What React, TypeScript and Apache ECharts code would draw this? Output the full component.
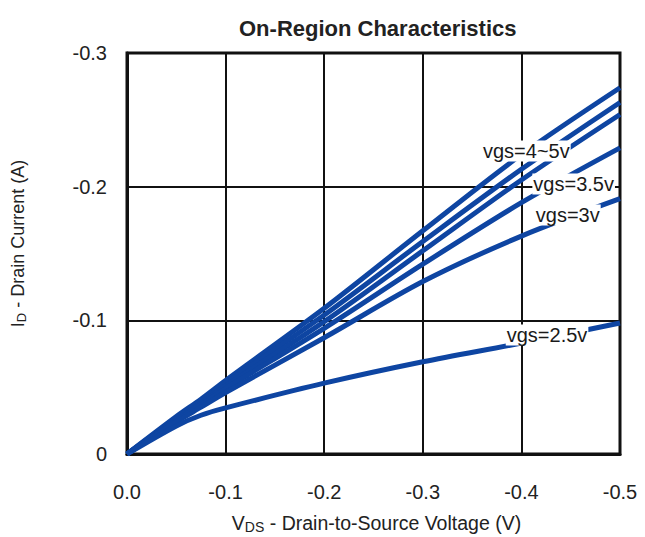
import React, { useEffect, useRef } from "react";
import * as echarts from "echarts";

const vds = [0, -0.05, -0.075, -0.1, -0.2, -0.3, -0.4, -0.5];
const id5v = [0, -0.028, -0.041, -0.055, -0.109, -0.167, -0.224, -0.274];
const id45v = [0, -0.027, -0.04, -0.053, -0.104, -0.159, -0.213, -0.263];
const id4v = [0, -0.026, -0.038, -0.051, -0.099, -0.152, -0.205, -0.254];
const id35v = [0, -0.025, -0.037, -0.049, -0.094, -0.142, -0.188, -0.229];
const id3v = [0, -0.024, -0.035, -0.046, -0.087, -0.129, -0.163, -0.191];
const id25v = [0, -0.021, -0.029, -0.0345, -0.053, -0.069, -0.083, -0.098];

const curveNames = ["5v", "4.5v", "4v", "3.5v", "3v", "2.5v"];
const curves = [id5v, id45v, id4v, id35v, id3v, id25v];

const labelTexts = ["vgs=4~5v", "vgs=3.5v", "vgs=3v", "vgs=2.5v"];
const labelX = [-0.405, -0.453, -0.447, -0.426];
const labelY = [-0.2267, -0.202, -0.1788, -0.089];

const FONT = "'Liberation Sans', Arial, Helvetica, sans-serif";
const BLUE = "#0E45A2";

export default function App() {
  const ref = useRef<HTMLDivElement>(null);
  useEffect(() => {
    if (!ref.current) return;
    const chart = echarts.init(ref.current, undefined, { renderer: "svg" });
    const lineSeries = curves.map((c, k) => ({
      name: curveNames[k],
      type: "line",
      data: vds.map((x, i) => [x, c[i]]),
      smooth: 0.3,
      showSymbol: false,
      symbol: "none",
      lineStyle: { color: BLUE, width: 5 },
      z: 3,
    }));
    chart.setOption({
      animation: false,
      backgroundColor: "#fff",
      textStyle: { fontFamily: FONT },
      title: {
        text: "On-Region Characteristics",
        left: 234,
        top: 12,
        textStyle: { fontSize: 22, fontWeight: "bold", color: "#222", fontFamily: FONT },
      },
      grid: {
        left: 127,
        right: 25,
        top: 53,
        bottom: 83,
        outerBoundsMode: "none",
        containLabel: false,
        show: true,
        borderColor: "#111",
        borderWidth: 3,
        backgroundColor: "#fff",
      },
      xAxis: {
        type: "value",
        min: -0.5,
        max: 0,
        interval: 0.1,
        inverse: true,
        axisLine: { show: true, lineStyle: { color: "#111", width: 3 } },
        axisTick: { show: false },
        splitLine: { show: true, lineStyle: { color: "#111", width: 2 } },
        axisLabel: {
          margin: 28,
          fontSize: 20,
          color: "#222",
          fontFamily: FONT,
          formatter: (v: number) => (Math.abs(v) < 1e-9 ? "0.0" : v.toFixed(1)),
        },
        name: "{v|V}{sub|DS}{n| - Drain-to-Source Voltage (V)}",
        nameLocation: "middle",
        nameGap: 58,
        nameTextStyle: {
          padding: [0, 0, 0, 6],
          rich: {
            v: { fontSize: 19.5, color: "#222", fontFamily: FONT },
            sub: { fontSize: 14, color: "#222", fontFamily: FONT, padding: [8, 0, 0, 0] },
            n: { fontSize: 19.5, color: "#222", fontFamily: FONT },
          },
        },
      },
      yAxis: {
        type: "value",
        min: -0.3,
        max: 0,
        interval: 0.1,
        inverse: true,
        axisLine: { show: true, lineStyle: { color: "#111", width: 3 } },
        axisTick: { show: false },
        splitLine: { show: true, lineStyle: { color: "#111", width: 2 } },
        axisLabel: {
          margin: 20,
          fontSize: 20,
          color: "#222",
          fontFamily: FONT,
          formatter: (v: number) => (Math.abs(v) < 1e-9 ? "0" : v.toFixed(1)),
        },
        name: "{v|I}{sub|D}{n| - Drain Current (A)}",
        nameLocation: "middle",
        nameGap: 99,
        nameRotate: 90,
        nameTextStyle: {
          padding: [0, 0, 0, 20],
          rich: {
            v: { fontSize: 18, color: "#222", fontFamily: FONT },
            sub: { fontSize: 13, color: "#222", fontFamily: FONT, padding: [8, 0, 0, 0] },
            n: { fontSize: 18, color: "#222", fontFamily: FONT },
          },
        },
      },
      series: [
        ...lineSeries,
        {
          type: "scatter",
          symbolSize: 1,
          itemStyle: { color: "#fff", opacity: 1 },
          z: 10,
          data: labelTexts.map((t, i) => ({ name: t, value: [labelX[i], labelY[i]] })),
          label: {
            show: true,
            position: "inside",
            formatter: "{b}",
            fontSize: 20,
            color: "#1a1a1a",
            opacity: 1,
            fontFamily: FONT,
            backgroundColor: "#ffffff",
            padding: [1, 1, 0, 1],
          },
        },
      ],
    });
    return () => chart.dispose();
  }, []);
  return (
    <div
      ref={ref}
      style={{ position: "fixed", left: 0, top: 0, width: 645, height: 537 }}
    />
  );
}
